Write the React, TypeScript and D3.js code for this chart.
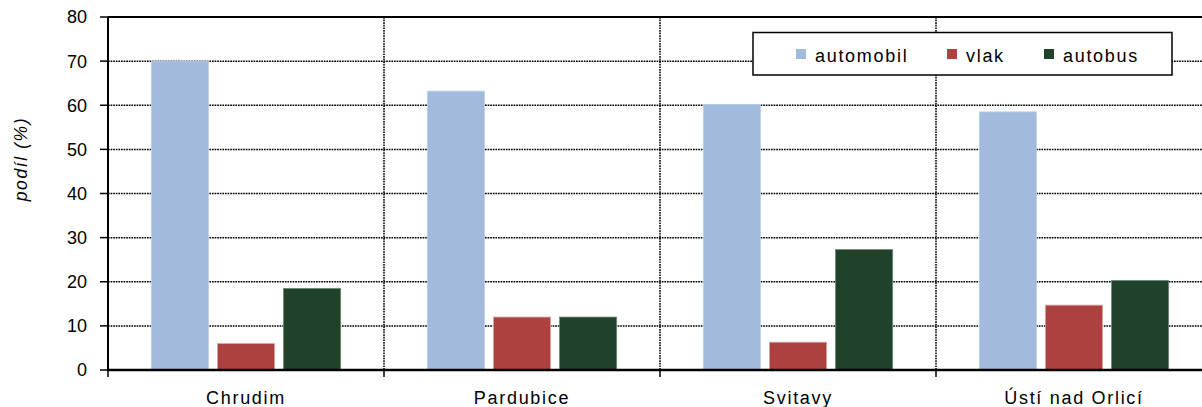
import React from "react";
import * as d3 from "d3";

const categories = ["Chrudim", "Pardubice", "Svitavy", "Ústí nad Orlicí"];
const seriesNames = ["automobil", "vlak", "autobus"];
const automobil = [70, 63.2, 60.2, 58.5];
const vlak = [6, 12, 6.3, 14.7];
const autobus = [18.5, 12, 27.3, 20.3];
const yTicks = [0, 10, 20, 30, 40, 50, 60, 70, 80];
const colors = ["#a2bbdc", "#ad4140", "#20412a"];
const strokes = ["#bcd0e8", "#dca5a5", "#6f8b77"];

const W = 1202;
const H = 407;
const left = 108;
const top = 17;
const bottom = 370;
const catWidth = 276;

export default function App() {
  const values = [automobil, vlak, autobus];
  const x = d3
    .scaleBand<string>()
    .domain(categories)
    .range([left, left + catWidth * categories.length])
    .padding(0);
  const xs = d3
    .scaleBand<string>()
    .domain(seriesNames)
    .range([0, x.bandwidth()])
    .paddingInner(0.135)
    .paddingOuter(0.655);
  const y = d3.scaleLinear().domain([0, 80]).range([bottom, top]);
  const font = "'Liberation Sans', Arial, sans-serif";
  const boundaries = categories.map((c) => x(c)!);

  return (
    <svg
      width={W}
      height={H}
      style={{ position: "absolute", left: 0, top: 0, background: "#fff" }}
      fontFamily={font}
    >
      {yTicks
        .filter((t) => t > 0 && t < 80)
        .map((t) => (
          <line
            key={"g" + t}
            x1={left}
            x2={W}
            y1={y(t)}
            y2={y(t)}
            stroke="#000"
            strokeWidth={1.5}
            strokeDasharray="1.7,0.9"
          />
        ))}
      {boundaries.slice(1).map((bx) => (
        <line
          key={"v" + bx}
          x1={bx}
          x2={bx}
          y1={top}
          y2={bottom}
          stroke="#000"
          strokeWidth={1.5}
          strokeDasharray="1.7,0.9"
        />
      ))}
      {categories.map((c, ci) =>
        seriesNames.map((s, si) => {
          const v = values[si][ci];
          const bx = x(c)! + xs(s)!;
          return (
            <rect
              key={c + s}
              x={bx}
              y={y(v)}
              width={xs.bandwidth()}
              height={bottom - y(v)}
              fill={colors[si]}
              stroke={strokes[si]}
              strokeWidth={0.8}
            />
          );
        })
      )}
      <line x1={left} x2={W} y1={top} y2={top} stroke="#000" strokeWidth={2} />
      <line x1={left} x2={left} y1={top} y2={bottom + 1} stroke="#000" strokeWidth={2} />
      {yTicks.map((t) => (
        <g key={"t" + t}>
          <line x1={100} x2={left} y1={y(t)} y2={y(t)} stroke="#000" strokeWidth={1.5} />
          <text
            x={87}
            y={y(t)}
            dy="0.36em"
            textAnchor="end"
            fontSize={18}
            fill="#000"
          >
            {t}
          </text>
        </g>
      ))}
      <line x1={left - 1} x2={W} y1={bottom} y2={bottom} stroke="#000" strokeWidth={2.4} />
      {boundaries.map((bx) => (
        <line key={"xt" + bx} x1={bx} x2={bx} y1={bottom} y2={bottom + 7} stroke="#000" strokeWidth={1.5} />
      ))}
      {categories.map((c) => (
        <text
          key={"l" + c}
          x={x(c)! + x.bandwidth() / 2}
          y={404}
          textAnchor="middle"
          fontSize={18}
          letterSpacing={1.7}
          fill="#000"
        >
          {c}
        </text>
      ))}
      <text
        transform={`translate(27,159) rotate(-90)`}
        textAnchor="middle"
        fontSize={17.5}
        fontStyle="italic"
        letterSpacing={1.6}
        fill="#000"
      >
        podíl (%)
      </text>
      <rect x={753} y={32.5} width={419} height={42.5} fill="#fff" stroke="#000" strokeWidth={1.5} />
      {seriesNames.map((s, i) => {
        const mx = [796, 947, 1044][i];
        return (
          <g key={"lg" + s}>
            <rect x={mx} y={49} width={10} height={10} fill={colors[i]} />
            <text x={mx + 19} y={61.5} fontSize={18} letterSpacing={1.7} fill="#000">
              {s}
            </text>
          </g>
        );
      })}
    </svg>
  );
}
